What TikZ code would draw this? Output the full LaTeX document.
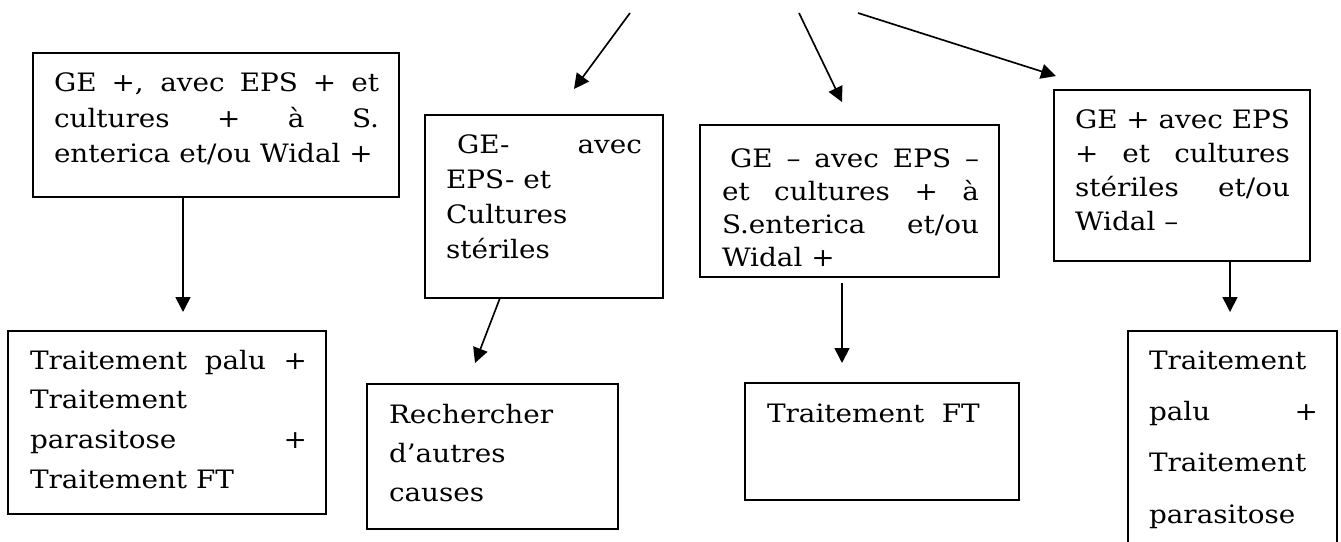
\documentclass[tikz,border=0pt]{standalone}
\usepackage{fontspec}
\setmainfont{DejaVu Serif}[FakeStretch=1.1]
\usetikzlibrary{arrows.meta}
\newcommand\jl[1]{\makebox[\linewidth][s]{#1}}
\begin{document}
\begin{tikzpicture}[x=0.75pt,y=-0.75pt,
  box/.style={draw,line width=1.5pt,inner sep=0pt,outer sep=0pt,anchor=north west},
  txt/.style={inner sep=0pt,outer sep=0pt,anchor=base west},
  arr/.style={line width=1.25pt,-{Triangle[length=11.25pt,width=11.25pt]}}]
\useasboundingbox (0,0) rectangle (1341,542);
\fill[white] (0,0) rectangle (1341,542);
\clip (0,0) rectangle (1341,542);
% boxes
\node[box,minimum width={366*0.75pt},minimum height={144*0.75pt}] (A) at (33,53) {};
\node[box,minimum width={238*0.75pt},minimum height={183*0.75pt}] (B) at (425,115) {};
\node[box,minimum width={299*0.75pt},minimum height={152*0.75pt}] (C) at (700,125) {};
\node[box,minimum width={256*0.75pt},minimum height={171*0.75pt}] (D) at (1054,90) {};
\node[box,minimum width={318*0.75pt},minimum height={183*0.75pt}] (E) at (8,331) {};
\node[box,minimum width={251*0.75pt},minimum height={145*0.75pt}] (F) at (367,384) {};
\node[box,minimum width={274*0.75pt},minimum height={117*0.75pt}] (G) at (745,383) {};
\node[box,minimum width={209*0.75pt},minimum height={240*0.75pt}] (H) at (1128,331) {};
% texts
\node[txt] (At) at (54,92) {\parbox[t]{243.75pt}{\fontsize{19}{26.25}\selectfont
  \jl{GE +, avec EPS + et}\\
  \jl{cultures + à S.}\\
  \mbox{enterica et/ou Widal +}}};
\node[txt] (Bt) at (446,153) {\parbox[t]{147pt}{\fontsize{19}{26.25}\selectfont
  \jl{\hspace*{8.25pt}GE- avec}\\
  \mbox{EPS- et}\\
  \mbox{Cultures}\\
  \mbox{stériles}}};
\node[txt] (Ct) at (722,167) {\parbox[t]{192.75pt}{\fontsize{19}{24.75}\selectfont
  \jl{\hspace*{6pt}GE – avec EPS –}\\
  \jl{et cultures + à}\\
  \jl{S.enterica et/ou}\\
  \mbox{Widal +}}};
\node[txt] (Dt) at (1075,128) {\parbox[t]{161.25pt}{\fontsize{19}{25.5}\selectfont
  \jl{GE + avec EPS}\\
  \jl{+ et cultures}\\
  \jl{stériles et/ou}\\
  \mbox{Widal –}}};
\node[txt] (Et) at (30,369) {\parbox[t]{207.75pt}{\fontsize{19}{29.8}\selectfont
  \jl{Traitement palu +}\\
  \mbox{Traitement}\\
  \jl{parasitose +}\\
  \mbox{Traitement FT}}};
\node[txt] (Ft) at (389,423) {\parbox[t]{150pt}{\fontsize{19}{29.6}\selectfont
  \mbox{Rechercher}\\
  \mbox{d’autres}\\
  \mbox{causes}}};
\node[txt] (Gt) at (767,422) {\fontsize{19}{24}\selectfont Traitement\ \ FT};
\node[txt] (Ht) at (1149,369) {\parbox[t]{126.75pt}{\fontsize{19}{38.5}\selectfont
  \mbox{Traitement}\\
  \jl{palu +}\\
  \mbox{Traitement}\\
  \mbox{parasitose}}};
% connector ends
\coordinate (t1) at (630,13);
\coordinate (e1) at (574,89);
\coordinate (t2) at (799,13);
\coordinate (e2) at (842,102);
\coordinate (t3) at (858,13);
\coordinate (e3) at (1056,76);
\coordinate (ae) at (183,312);
\coordinate (bs) at (500,298);
\coordinate (fe) at (475,363);
\coordinate (cs) at (842,283);
\coordinate (ge) at (842,363);
\coordinate (de) at (1230,312);
% connectors
\draw[arr] (t1) -- (e1);
\draw[arr] (t2) -- (e2);
\draw[arr] (t3) -- (e3);
\draw[arr] (A.south -| ae) -- (ae);
\draw[arr] (bs) -- (fe);
\draw[arr] (cs) -- (ge);
\draw[arr] (D.south -| de) -- (de);
\end{tikzpicture}
\end{document}
